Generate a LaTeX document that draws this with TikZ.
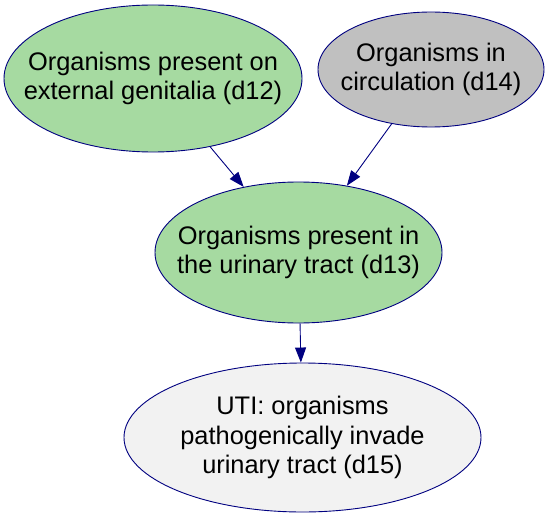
\documentclass[tikz,border=0pt]{standalone}
\usepackage{fontspec}
\setmainfont{Liberation Sans}
\usetikzlibrary{shapes.geometric,arrows.meta}
\definecolor{edgeblue}{RGB}{0,0,128}
\definecolor{knowngreen}{RGB}{166,218,161}
\definecolor{silvergray}{RGB}{192,192,192}
\definecolor{palegray}{RGB}{242,242,242}
\tikzset{
  bubble/.style={ellipse, draw=edgeblue, line width=0.9pt, inner sep=0pt},
  caption/.style={align=center, font=\fontsize{25.4}{29.5}\selectfont, inner sep=0pt, text=black},
  link/.style={draw=edgeblue, line width=0.9pt, -{Triangle[length=15pt,width=11pt]}},
}
\begin{document}
\begin{tikzpicture}[x=1pt,y=-1pt]
  \useasboundingbox (0,0) rectangle (545,513);
  % outlines
  \node[bubble, fill=knowngreen, minimum width=298pt, minimum height=147pt] (d12) at (153,78.5) {};
  \node[bubble, fill=silvergray, minimum width=226pt, minimum height=115pt] (d14) at (431,69.5) {};
  \node[bubble, fill=knowngreen, minimum width=287pt, minimum height=141pt] (d13) at (298.5,252.5) {};
  \node[bubble, fill=palegray, minimum width=357pt, minimum height=149pt] (d15) at (302.5,437.5) {};
  % texts
  \node[caption] (t12) at (d12) {Organisms present on\\external genitalia (d12)};
  \node[caption] (t14) at (d14) {Organisms in\\circulation (d14)};
  \node[caption] (t13) at (d13) {Organisms present in\\the urinary tract (d13)};
  \node[caption] (t15) at (d15) {UTI: organisms\\pathogenically invade\\urinary tract (d15)};
  % influences
  \draw[link] (d12) -- (d13);
  \draw[link] (d14) -- (d13);
  \draw[link] (d13) -- (d15);
\end{tikzpicture}
\end{document}
